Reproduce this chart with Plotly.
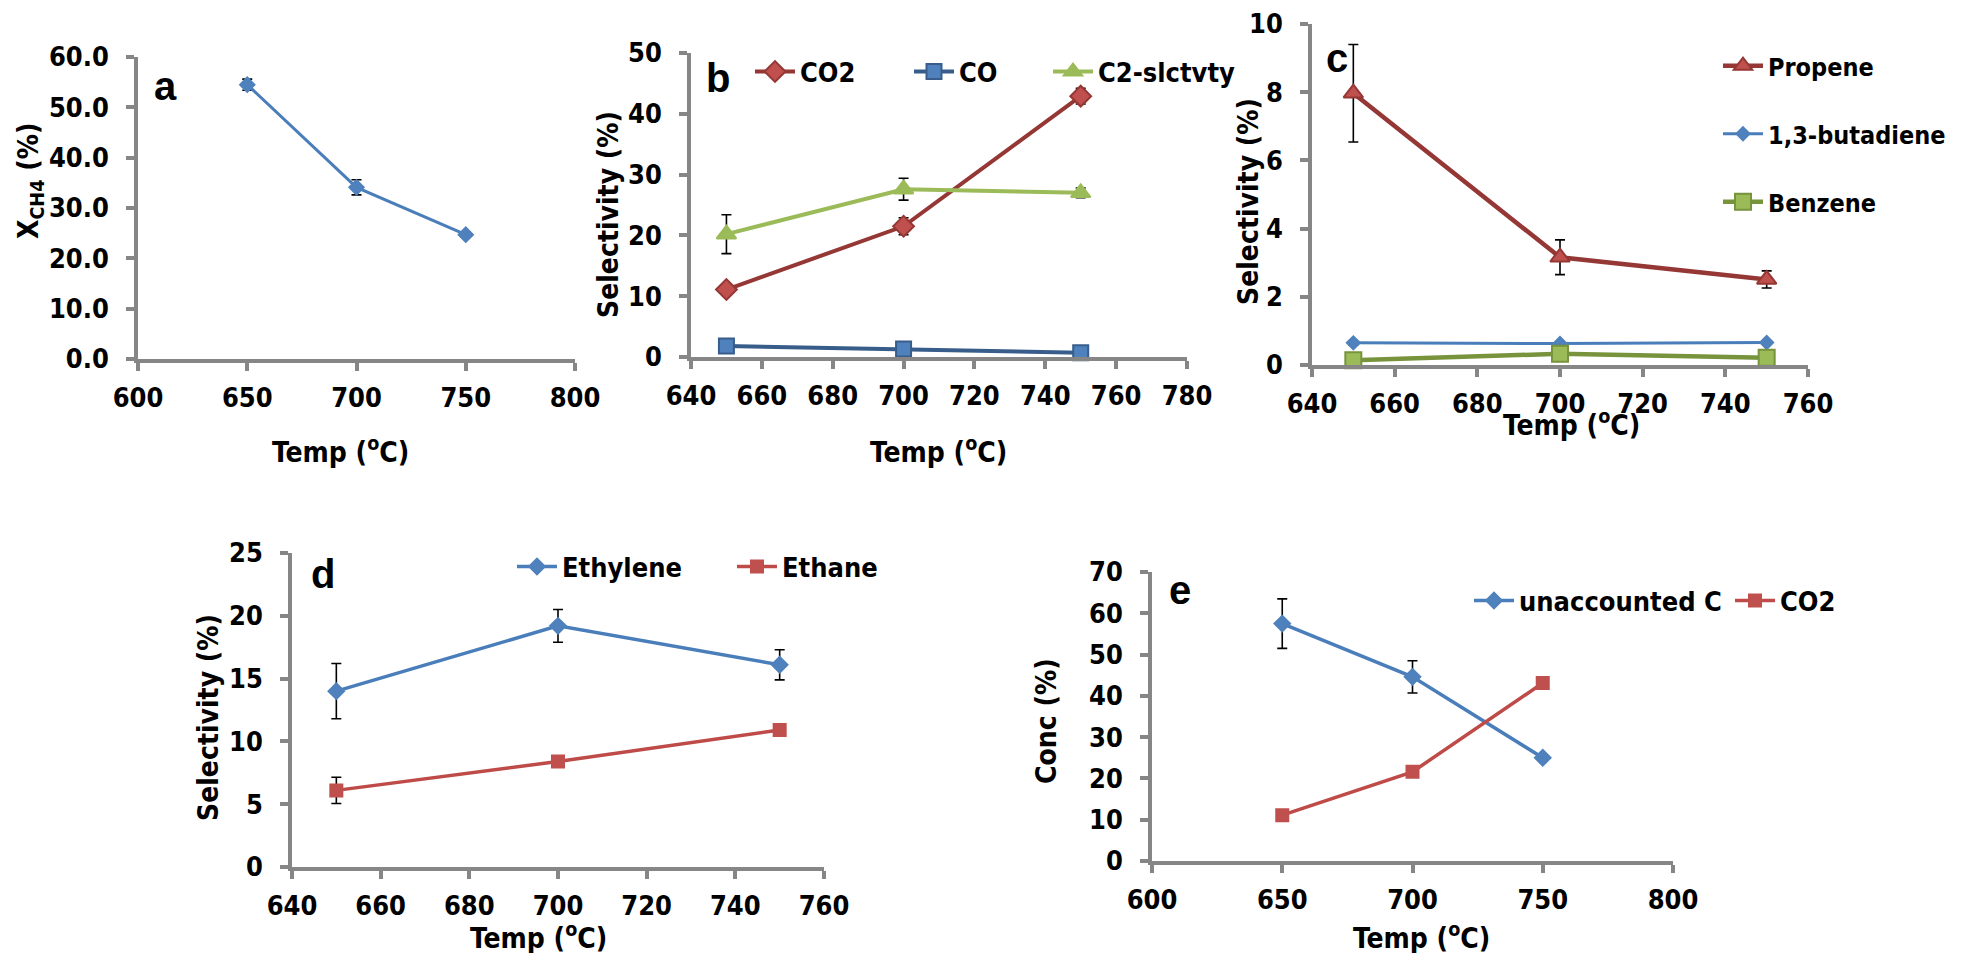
import plotly.graph_objects as go

W, H = 1961, 953

# ── data ─────────────────────────────────────────
temp = [650, 700, 750]

xch4 = [54.5, 34.1, 24.7]
xch4_err = [1.1, 1.5, 0.5]

co2_sel = [11.1, 21.5, 42.9]
co2_sel_err = [0.4, 1.4, 1.3]
co_sel = [1.8, 1.3, 0.7]
co_sel_err = [0.3, 0.3, 0.3]
c2_sel = [20.2, 27.6, 27.0]
c2_sel_err = [3.2, 1.8, 0.8]

propene = [7.97, 3.16, 2.51]
propene_err = [1.43, 0.51, 0.25]
butadiene = [0.65, 0.63, 0.66]
butadiene_err = [0.06, 0.03, 0.05]
benzene = [0.14, 0.33, 0.21]
benzene_err = [0.05, 0.05, 0.05]

ethylene = [14.0, 19.2, 16.1]
ethylene_err = [2.2, 1.3, 1.2]
ethane = [6.1, 8.4, 10.9]
ethane_err = [1.05, 0.45, 0.2]

unacc_c = [57.5, 44.6, 25.0]
unacc_c_err = [6.0, 3.9, 0.6]
co2_conc = [11.1, 21.6, 43.1]
co2_conc_err = [0.3, 0.8, 0.5]

# ── colours / fonts ──────────────────────────────
BLUE, BLUE_LN, BLUE_DK = "#4F81BD", "#4A7EBB", "#385D8A"
RED, RED_LN, RED_DK = "#C0504D", "#BE4B48", "#953735"
GREEN, GREEN_DK = "#9BBB59", "#77933C"
AXIS = "#868686"
FONT = "Liberation Sans Narrow, DejaVu Sans Condensed, Arial Narrow, Liberation Sans, Arial"


def px_x(p):
    return p / W


def px_y(p):
    return 1 - p / H


# panel boxes in pixels: (left, right, top, bottom)
boxes = {
    "a": (130, 567, 49, 351),
    "b": (683, 1179, 45, 349),
    "c": (1304, 1800, 16, 357),
    "d": (284, 816, 545, 859),
    "e": (1144, 1665, 564, 853),
}

# legend slots: name -> (left px of legend box, centre y px, font size)
legend_pos = {
    "legend": (742, 64, 27), "legend2": (901, 64, 27), "legend3": (1040, 64, 27),
    "legend4": (1710, 58, 25), "legend5": (1710, 126, 25), "legend6": (1710, 194, 25),
    "legend7": (504, 559, 27), "legend8": (724, 559, 27),
    "legend9": (1461, 593, 27), "legend10": (1722, 593, 27),
}

fig = go.Figure()


def add_line(n, y, err, name, sym, size, fill, edge, lc, lw, legend=None):
    fig.add_trace(go.Scatter(
        x=temp, y=y, name=name, mode="lines+markers",
        xaxis=f"x{n}", yaxis=f"y{n}",
        line=dict(color=lc, width=lw),
        marker=dict(symbol=sym, size=size, color=fill, line=dict(color=edge, width=2)),
        error_y=dict(type="data", array=err, color="black", thickness=1.6, width=5),
        showlegend=legend is not None, legend=legend or "legend",
        cliponaxis=False,
    ))


# a
add_line(1, xch4, xch4_err, "XCH4", "diamond", 11, BLUE, BLUE, BLUE_LN, 3)
# b
add_line(2, co2_sel, co2_sel_err, "CO2", "diamond", 16, RED, RED_DK, RED_DK, 4, "legend")
add_line(2, co_sel, co_sel_err, "CO", "square", 15, BLUE, BLUE_DK, BLUE_DK, 4, "legend2")
add_line(2, c2_sel, c2_sel_err, "C2-slctvty", "triangle-up", 17, GREEN, GREEN, GREEN, 4, "legend3")
# c
add_line(3, propene, propene_err, "Propene", "triangle-up", 17, RED, RED_DK, RED_DK, 4.5, "legend4")
add_line(3, butadiene, butadiene_err, "1,3-butadiene", "diamond", 10, BLUE, BLUE, BLUE_LN, 3, "legend5")
add_line(3, benzene, benzene_err, "Benzene", "square", 16, GREEN, GREEN_DK, GREEN_DK, 4.5, "legend6")
# d
add_line(4, ethylene, ethylene_err, "Ethylene", "diamond", 12, BLUE, BLUE, BLUE_LN, 3.5, "legend7")
add_line(4, ethane, ethane_err, "Ethane", "square", 12, RED, RED, RED_LN, 3.5, "legend8")
# e
add_line(5, unacc_c, unacc_c_err, "unaccounted C", "diamond", 12, BLUE, BLUE, BLUE_LN, 3.5, "legend9")
add_line(5, co2_conc, co2_conc_err, "CO2", "square", 12, RED, RED, RED_LN, 3.5, "legend10")

# axis ranges / ticks
xr = {"a": (600, 800, 50), "b": (640, 780, 20), "c": (640, 760, 20), "d": (640, 760, 20), "e": (600, 800, 50)}
yr = {"a": (0, 60, 10), "b": (0, 50, 10), "c": (0, 10, 2), "d": (0, 25, 5), "e": (0, 70, 10)}

tick_font = dict(family=FONT, size=27, color="black", weight="bold")
layout = {}
for i, k in enumerate("abcde", start=1):
    l, r, t, b = boxes[k]
    common = dict(showline=True, linecolor=AXIS, linewidth=3.5, ticks="outside",
                  ticklen=8, tickwidth=3.5, tickcolor=AXIS, showgrid=False, zeroline=False,
                  automargin=False, tickfont=tick_font)
    layout[f"xaxis{i}"] = dict(common, domain=[px_x(l), px_x(r)], anchor=f"y{i}",
                               range=[xr[k][0], xr[k][1]], dtick=xr[k][2], tick0=xr[k][0],
                               ticklabelstandoff=4)
    layout[f"yaxis{i}"] = dict(common, domain=[px_y(b), px_y(t)], anchor=f"x{i}",
                               range=[yr[k][0], yr[k][1]], dtick=yr[k][2], tick0=0,
                               tickformat=".1f" if k == "a" else "d", ticklabelstandoff=12)

for name, (lx, ly, fs) in legend_pos.items():
    layout[name] = dict(x=px_x(lx), y=px_y(ly), xanchor="left", yanchor="middle",
                        font=dict(family=FONT, size=fs, color="black", weight="bold"),
                        itemwidth=40, bgcolor="rgba(0,0,0,0)", borderwidth=0)

title_font = dict(family=FONT, size=28, color="black", weight="bold")
temp_title = "Temp (<sup>o</sup>C)"
titles = [
    (332, 442, temp_title, 0), (930, 442, temp_title, 0), (1563, 415, temp_title, 0),
    (530, 928, temp_title, 0), (1413, 928, temp_title, 0),
    (22, 173, "X<sub>CH4</sub> (%)", -90), (600, 207, "Selectivity (%)", -90),
    (1240, 194, "Selectivity (%)", -90), (200, 710, "Selectivity (%)", -90),
    (1038, 713, "Conc (%)", -90),
]
anns = [dict(x=px_x(x), y=px_y(y), xref="paper", yref="paper", text=t, textangle=a,
             showarrow=False, font=title_font, xanchor="center", yanchor="middle")
        for x, y, t, a in titles]
for x, y, t in [(157, 78, "a"), (710, 70, "b"), (1329, 50, "c"), (315, 566, "d"), (1172, 582, "e")]:
    anns.append(dict(x=px_x(x), y=px_y(y), xref="paper", yref="paper", text=t, showarrow=False,
                     font=dict(family="Liberation Sans, Arial", size=40, color="black", weight="bold"),
                     xanchor="center", yanchor="middle"))

fig.update_layout(
    width=W, height=H, margin=dict(l=0, r=0, t=0, b=0, autoexpand=False),
    paper_bgcolor="white", plot_bgcolor="white",
    annotations=anns, **layout,
)

fig.write_html("out.html")
